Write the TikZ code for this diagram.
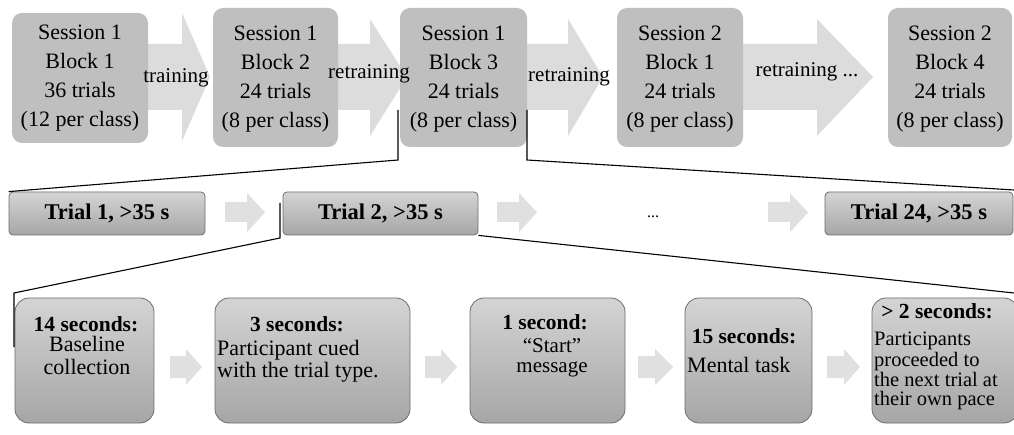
\documentclass[tikz,border=0pt]{standalone}
\usepackage{fontspec}
\setmainfont{Liberation Serif}
\definecolor{boxgray}{HTML}{BFBFBF}
\definecolor{bigarrow}{HTML}{DCDCDC}
\definecolor{smallarrow}{HTML}{E0E0E0}
\definecolor{edgegray}{HTML}{6E6E6E}
\definecolor{gradtop}{HTML}{D4D4D4}
\definecolor{gradbot}{HTML}{A6A6A6}
\begin{document}
\begin{tikzpicture}[x=1pt,y=-1pt,
  topbox/.style={fill=boxgray, rounded corners=10pt, inner sep=0pt, align=center,
    font=\fontsize{22}{29}\selectfont},
  trialbox/.style={draw=edgegray, line width=0.8pt, top color=gradtop, bottom color=gradbot,
    rounded corners=4pt, inner sep=0pt, font=\fontsize{22.5}{26}\selectfont\bfseries},
  stepbox/.style={draw=edgegray, line width=0.8pt, top color=gradtop, bottom color=gradbot,
    rounded corners=14pt, inner sep=0pt},
  bigarr/.style={fill=bigarrow},
  smallarr/.style={fill=smallarrow},
  lbl/.style={inner sep=0pt, font=\fontsize{21}{24}\selectfont},
  ttl/.style={inner sep=0pt, font=\fontsize{21.5}{24}\selectfont\bfseries},
  bdy/.style={inner sep=0pt, font=\fontsize{22}{20.5}\selectfont},
  bdymid/.style={inner sep=0pt, font=\fontsize{21}{20}\selectfont},
  bdytight/.style={inner sep=0pt, font=\fontsize{20.5}{19.5}\selectfont},
  zoomline/.style={draw=black, line width=1.1pt}]
\useasboundingbox (0,0) rectangle (1014,435);
\fill[white] (0,0) rectangle (1014,435);

% big arrows (top row)
\fill[bigarr] (140,44) -- (182,44) -- (182,13) -- (210,77) -- (182,141) -- (182,110) -- (140,110) -- cycle;
\fill[bigarr] (330,44) -- (370,44) -- (370,19) -- (407,77) -- (370,136) -- (370,110) -- (330,110) -- cycle;
\fill[bigarr] (520,44) -- (568,44) -- (568,19) -- (603,77) -- (568,136) -- (568,110) -- (520,110) -- cycle;
\fill[bigarr] (735,44) -- (817,44) -- (817,19) -- (873,77) -- (817,136) -- (817,110) -- (735,110) -- cycle;

% top boxes
\node[topbox, minimum width=136pt, minimum height=130pt] (s1) at (80,78)
  {Session 1\\Block 1\\36 trials\\(12 per class)};
\node[topbox, minimum width=125pt, minimum height=139pt] (s2) at (275.5,77.5) {};
\node[topbox, minimum width=127pt, minimum height=139pt] (s3) at (463.5,77.5) {};
\node[topbox, minimum width=126pt, minimum height=139pt] (s4) at (680,77.5) {};
\node[topbox, minimum width=124pt, minimum height=139pt] (s5) at (950,77.5) {};
\node[topbox, fill=none] (s2t) at (275.5,79.5) {Session 1\\Block 2\\24 trials\\(8 per class)};
\node[topbox, fill=none] (s3t) at (463.5,79.5) {Session 1\\Block 3\\24 trials\\(8 per class)};
\node[topbox, fill=none] (s4t) at (680,79.5) {Session 2\\Block 1\\24 trials\\(8 per class)};
\node[topbox, fill=none] (s5t) at (950,79.5) {Session 2\\Block 4\\24 trials\\(8 per class)};

% arrow labels
\node[lbl, anchor=base] (l1) at (176,83) {training};
\node[lbl, anchor=base] (l2) at (369,79) {retraining};
\node[lbl, anchor=base] (l3) at (569,82) {retraining};
\node[lbl, anchor=base] (l4) at (807,77) {retraining ...};

% small arrows (trial row)
\fill[smallarr] (225,202) -- (247,202) -- (247,193) -- (265,212.5) -- (247,232) -- (247,222) -- (225,222) -- cycle;
\fill[smallarr] (497,202) -- (519,202) -- (519,193) -- (537,212.5) -- (519,232) -- (519,222) -- (497,222) -- cycle;
\fill[smallarr] (768,202) -- (790,202) -- (790,193) -- (808,212.5) -- (790,232) -- (790,222) -- (768,222) -- cycle;

% trial boxes
\node[trialbox, minimum width=196pt, minimum height=43pt] (t1) at (107,213.5) {Trial 1, >35 s};
\node[trialbox, minimum width=195pt, minimum height=43pt] (t2) at (380.5,213.5) {Trial 2, >35 s};
\node[trialbox, minimum width=188pt, minimum height=43pt] (t24) at (919,213.5) {Trial 24, >35 s};
\node[inner sep=0pt, font=\fontsize{16}{18}\selectfont] (dots) at (653,217) {...};

% small arrows (step row)
\fill[smallarr] (170,356) -- (186,356) -- (186,349) -- (202,367) -- (186,385) -- (186,378) -- (170,378) -- cycle;
\fill[smallarr] (425,356) -- (441,356) -- (441,349) -- (457,367) -- (441,385) -- (441,378) -- (425,378) -- cycle;
\fill[smallarr] (638,356) -- (655,356) -- (655,349) -- (673,367) -- (655,385) -- (655,378) -- (638,378) -- cycle;
\fill[smallarr] (827,356) -- (844,356) -- (844,349) -- (860,367) -- (844,385) -- (844,378) -- (827,378) -- cycle;

% step boxes
\node[stepbox, minimum width=139pt, minimum height=125pt] (b1) at (84.5,360.5) {};
\node[stepbox, minimum width=195pt, minimum height=125pt] (b2) at (312.5,360.5) {};
\node[stepbox, minimum width=155pt, minimum height=125pt] (b3) at (547.5,360.5) {};
\node[stepbox, minimum width=127pt, minimum height=125pt] (b4) at (748.5,360.5) {};
\node[stepbox, minimum width=146pt, minimum height=125pt] (b5) at (945,360.5) {};

\node[ttl, anchor=base] (b1t) at (86,331) {14 seconds:};
\node[bdy, anchor=north, align=center] (b1b) at (87,336.5) {\strut Baseline\\collection};
\node[ttl, anchor=base] (b2t) at (297,331) {3 seconds:};
\node[bdy, anchor=north west, align=left] (b2b) at (217,340) {\strut Participant cued\\with the trial type.};
\node[ttl, anchor=base] (b3t) at (545,329.5) {1 second:};
\node[bdymid, anchor=north, align=center] (b3b) at (552,338.5) {\strut “Start”\\message};
\node[ttl, anchor=base] (b4t) at (744,344) {15 seconds:};
\node[bdy, anchor=base west] (b4b) at (687,372) {Mental task};
\node[ttl, anchor=base] (b5t) at (937,319) {> 2 seconds:};
\node[bdytight, anchor=north west, align=left] (b5b) at (874,332)
  {\strut Participants\\proceeded to\\the next trial at\\their own pace};

% zoom connectors
\coordinate (c1) at (398,110);
\coordinate (c2) at (398,160);
\coordinate (c3) at (527,110);
\coordinate (c4) at (527,160);
\coordinate (c5) at (1014,190);
\coordinate (c6) at (280,203);
\coordinate (c7) at (280,238);
\coordinate (c8) at (14,293);
\coordinate (c9) at (14,347);
\coordinate (c10) at (1014,293);
\draw[zoomline] (c1) -- (c2) -- (t1.north west);
\draw[zoomline] (c3) -- (c4) -- (c5);
\draw[zoomline] (c6) -- (c7) -- (c8) -- (c9);
\draw[zoomline] (t2.south east) -- (c10);
\end{tikzpicture}
\end{document}
